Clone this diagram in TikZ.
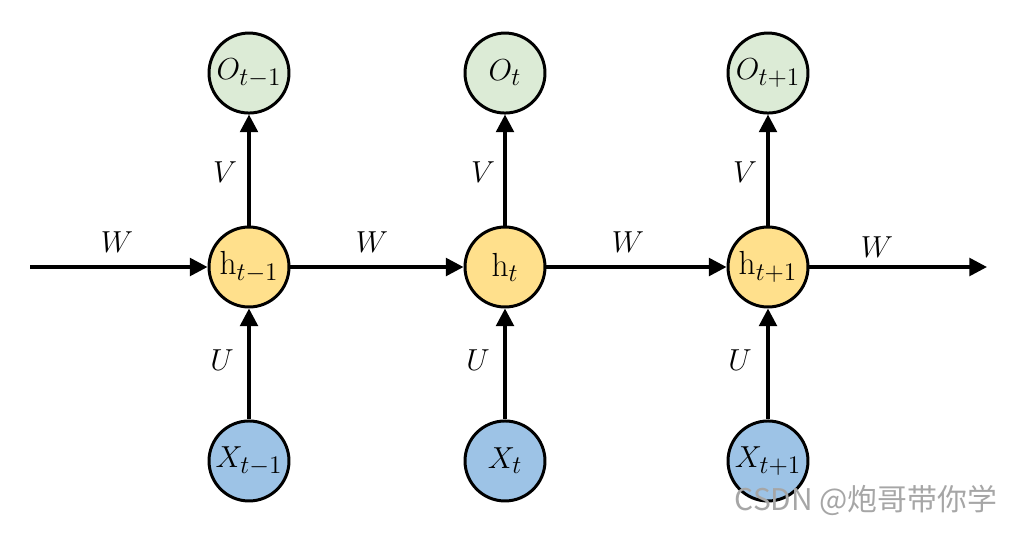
\documentclass[tikz,border=0pt]{standalone}
\usepackage{fontspec}
\newfontfamily\cjk{Noto Sans CJK SC}
\usetikzlibrary{arrows.meta}
\definecolor{ocol}{HTML}{DCEBD6}
\definecolor{hcol}{HTML}{FFE08C}
\definecolor{xcol}{HTML}{9DC3E6}
\tikzset{
  unit/.style={circle, draw, line width=1.7pt, minimum size=1.6cm, inner sep=0pt, font=\fontsize{19}{21}\selectfont},
  outunit/.style={unit, fill=ocol},
  hidunit/.style={unit, fill=hcol},
  inunit/.style={unit, fill=xcol},
  link/.style={line width=2pt, -{Triangle[length=10pt,width=10pt]}},
  lbl/.style={font=\fontsize{17}{19}\selectfont}
}
\begin{document}
\begin{tikzpicture}[x=0.02cm, y=-0.02cm, node distance=3.88cm]
                \useasboundingbox (0,0) rectangle (1017,532);
                \node (h1) [hidunit] at (249,267) {$\mathrm{h}_{t-1}$};
                \node (h2) [hidunit] at (505,267) {$\mathrm{h}_{t}$};
                \node (h3) [hidunit] at (768,267) {$\mathrm{h}_{t+1}$};
                \node (o1) [outunit, above of=h1] {$O_{t-1}$};
                \node (o2) [outunit, above of=h2] {$O_{t}$};
                \node (o3) [outunit, above of=h3] {$O_{t+1}$};
                \node (x1) [inunit, below of=h1] {$X_{t-1}$};
                \node (x2) [inunit, below of=h2] {$X_{t}$};
                \node (x3) [inunit, below of=h3] {$X_{t+1}$};
                \coordinate (start) at (30,267);
                \coordinate (end) at (987,267);

                \draw [link] (start) -- (h1);
                \draw [link] (h1) -- (h2);
                \draw [link] (h2) -- (h3);
                \draw [link] (h3) -- (end);
                \foreach \i in {1,2,3} {
                  \draw [link] (h\i) -- (o\i);
                  \draw [link] (x\i) -- (h\i);
                }

                \node (w0) [lbl] at (117,242) {$W$};
                \node (w1) [lbl] at (372,242) {$W$};
                \node (w2) [lbl] at (628,242) {$W$};
                \node (w3) [lbl] at (877,247) {$W$};
                \node (v1) [lbl] at (225,172) {$V$};
                \node (v2) [lbl] at (483,172) {$V$};
                \node (v3) [lbl] at (745,172) {$V$};
                \node (u1) [lbl] at (222,360) {$U$};
                \node (u2) [lbl] at (478,360) {$U$};
                \node (u3) [lbl] at (740,360) {$U$};

                \node (mark) [text=gray!70, font=\cjk\fontsize{17}{19}\selectfont] at (866,500) {CSDN @炮哥带你学};
            \end{tikzpicture}
\end{document}
